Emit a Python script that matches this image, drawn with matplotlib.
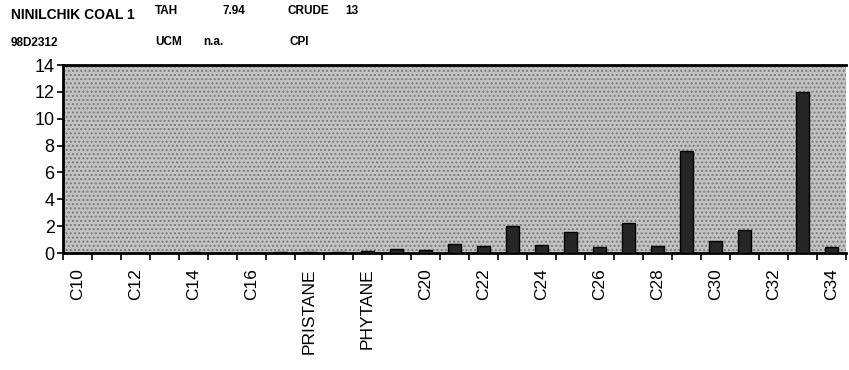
import matplotlib
matplotlib.use("Agg")
import matplotlib.pyplot as plt
import numpy as np

categories = ["C10", "C11", "C12", "C13", "C14", "C15", "C16", "C17", "PRISTANE",
              "C18", "PHYTANE", "C19", "C20", "C21", "C22", "C23", "C24", "C25",
              "C26", "C27", "C28", "C29", "C30", "C31", "C32", "C33", "C34"]
values = [0.0, 0.0, 0.0, 0.0, 0.05, 0.0, 0.03, 0.08, 0.1,
          0.1, 0.12, 0.3, 0.25, 0.7, 0.5, 2.0, 0.6, 1.6,
          0.45, 2.2, 0.55, 7.6, 0.9, 1.7, 0.0, 12.0, 0.45]
yticks = [0, 2, 4, 6, 8, 10, 12, 14]

plt.rcParams['font.family'] = ['Liberation Sans', 'DejaVu Sans']
plt.rcParams['hatch.linewidth'] = 1.0

fig = plt.figure(figsize=(8.49, 3.70), dpi=100)
ax = fig.add_axes([63/849, 1-253/370, (846-63)/849, (253-65)/370])
ax.set_facecolor('#c2c2c2')
ax.add_patch(plt.Rectangle((0, 0), 1, 1, transform=ax.transAxes, facecolor='none',
                           hatch='....', edgecolor='#7a7a7a', linewidth=0, zorder=0))

x = np.arange(len(categories))
ax.bar(x, values, width=0.47, color='#262626', edgecolor='black', linewidth=1.0, zorder=3)

ax.set_xlim(-0.5, len(categories)-0.5)
ax.set_ylim(0, 14)
ax.set_yticks(yticks)
ax.set_yticklabels([str(v) for v in yticks], fontsize=13)
ax.tick_params(axis='y', direction='out', length=4, width=1.2, pad=2)

ax.set_xticks(x[::2])
ax.set_xticklabels(categories[::2], rotation=90, fontsize=12.5)
ax.tick_params(axis='x', which='major', length=0, pad=11)
ax.set_xticks(np.arange(-0.5, len(categories)), minor=True)
ax.tick_params(axis='x', which='minor', direction='out', length=5, width=1.2)

for s in ['left', 'bottom', 'top']:
    ax.spines[s].set_linewidth(2)
ax.spines['right'].set_visible(False)

fig.text(11/849, 1-15/370, "NINILCHIK COAL 1", fontsize=10, fontweight='bold', va='center')
fig.text(155/849, 1-11/370, "TAH", fontsize=8.5, fontweight='bold', va='center')
fig.text(222/849, 1-11/370, "7.94", fontsize=8.5, fontweight='bold', va='center')
fig.text(288/849, 1-11/370, "CRUDE", fontsize=8.5, fontweight='bold', va='center')
fig.text(345/849, 1-11/370, "13", fontsize=8.5, fontweight='bold', va='center')
fig.text(11/849, 1-43/370, "98D2312", fontsize=8.5, fontweight='bold', va='center')
fig.text(155/849, 1-42/370, "UCM", fontsize=8.5, fontweight='bold', va='center')
fig.text(203/849, 1-42/370, "n.a.", fontsize=8.5, fontweight='bold', va='center')
fig.text(290/849, 1-42/370, "CPI", fontsize=8.5, fontweight='bold', va='center')

fig.savefig("out.png", dpi=100)
